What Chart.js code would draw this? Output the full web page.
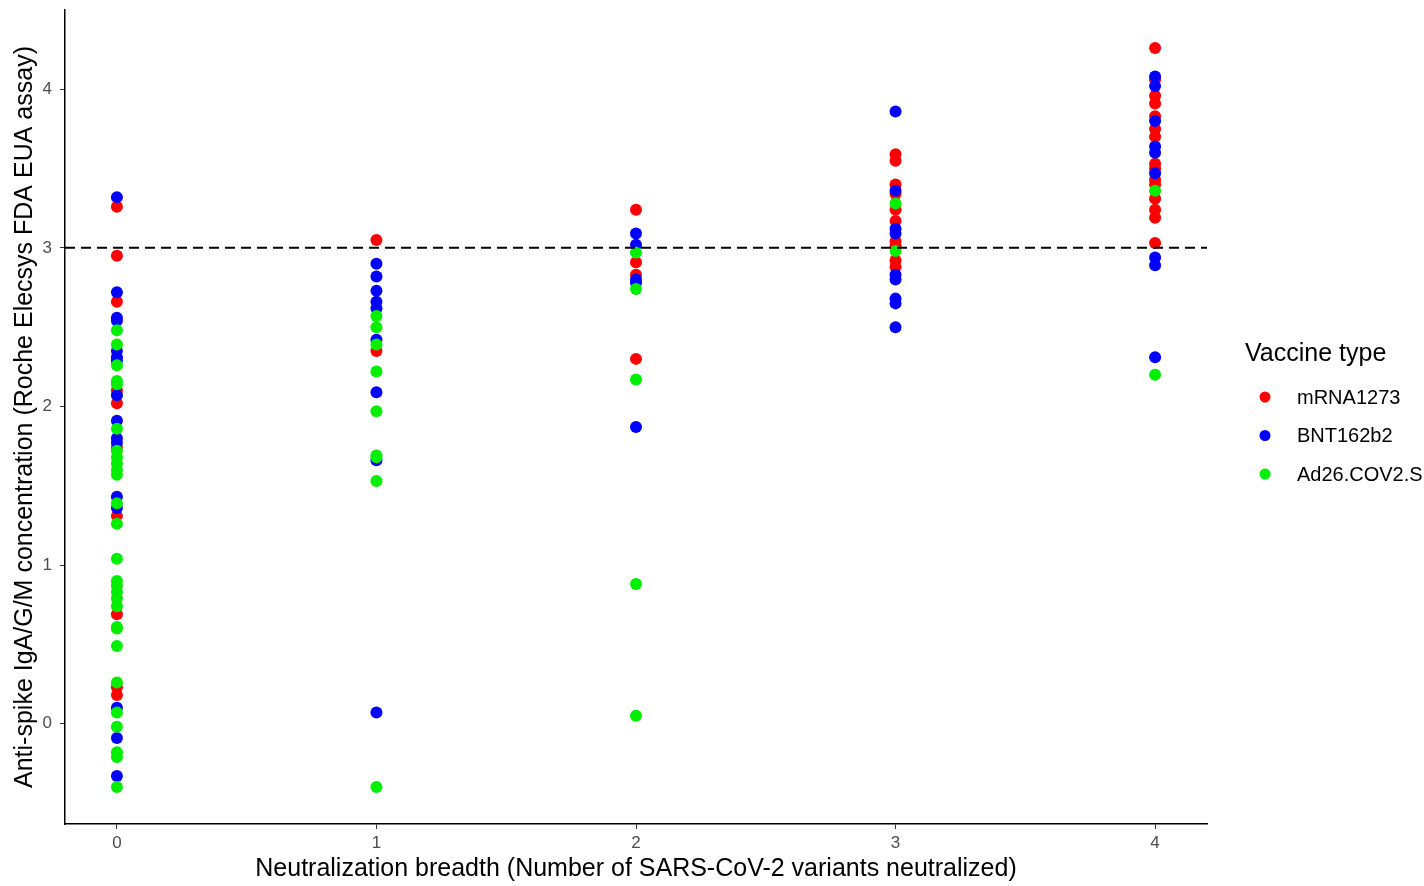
<!DOCTYPE html>
<html>
<head>
<meta charset="utf-8">
<script src="https://cdn.jsdelivr.net/npm/chart.js@4/dist/chart.umd.min.js"></script>
<style>
  html, body { margin: 0; padding: 0; background: #fff; }
  #wrap { width: 1424px; height: 886px; }
</style>
</head>
<body>
<div id="wrap"><canvas id="scatterChart"></canvas></div>
<script>
// Neutralization breadth levels (x axis)
var breadthLevels = [0, 1, 2, 3, 4];
var yTicks = [0, 1, 2, 3, 4];
var threshold = 3;

var seriesNames = ["mRNA1273", "BNT162b2", "Ad26.COV2.S"];
var seriesColors = ["#ff0000", "#0000ff", "#00ee00"];

// concentration values, one list per breadth level
var mrna1273 = [
  [3.26, 2.95, 2.66, 2.10, 2.02, 1.74, 1.31, 0.69, 0.23, 0.18],
  [3.05, 2.35],
  [3.24, 2.91, 2.83, 2.30],
  [3.59, 3.55, 3.40, 3.34, 3.24, 3.17, 3.04, 3.01, 2.92, 2.88],
  [4.26, 4.06, 3.96, 3.91, 3.83, 3.75, 3.70, 3.53, 3.50, 3.43, 3.40, 3.31, 3.24, 3.19, 3.03]
];
var bnt162b2 = [
  [3.32, 2.72, 2.56, 2.54, 2.35, 2.31, 2.29, 2.07, 1.91, 1.80, 1.77, 1.43, 1.36, 0.10, -0.09, -0.33],
  [2.90, 2.82, 2.73, 2.66, 2.62, 2.42, 2.09, 1.66, 0.07],
  [3.09, 3.02, 2.80, 2.78, 1.87],
  [3.86, 3.36, 3.12, 3.09, 2.83, 2.80, 2.68, 2.65, 2.50],
  [4.08, 4.02, 3.80, 3.64, 3.60, 3.47, 2.94, 2.89, 2.31]
];
var ad26 = [
  [2.48, 2.39, 2.26, 2.16, 2.14, 1.86, 1.72, 1.68, 1.64, 1.60, 1.57, 1.39, 1.26, 1.04, 0.90, 0.87, 0.83, 0.79, 0.74, 0.61, 0.60, 0.49, 0.26, 0.07, -0.02, -0.18, -0.21, -0.40],
  [2.57, 2.50, 2.39, 2.22, 1.97, 1.69, 1.68, 1.53, -0.40],
  [2.97, 2.74, 2.17, 0.88, 0.05],
  [3.28, 2.98],
  [3.36, 2.20]
];

var toPoints = function(levels) {
  var pts = [];
  levels.forEach(function(vals, i) {
    vals.forEach(function(v) { pts.push({x: breadthLevels[i], y: v}); });
  });
  return pts;
};

var allSeries = [mrna1273, bnt162b2, ad26];
var datasets = allSeries.map(function(s, i) {
  return {
    label: seriesNames[i],
    data: toPoints(s),
    backgroundColor: seriesColors[i],
    borderWidth: 0,
    pointRadius: 6,
    pointHoverRadius: 6,
    order: 3 - i
  };
});

var tickFont = {family: "'Liberation Sans', Arial, sans-serif", size: 17};
var titleFont = {family: "'Liberation Sans', Arial, sans-serif", size: 25};

var thresholdLine = {
  id: 'thresholdLine',
  afterDatasetsDraw: function(chart) {
    var ctx = chart.ctx, area = chart.chartArea;
    var y = chart.scales.y.getPixelForValue(threshold);
    ctx.save();
    ctx.strokeStyle = '#000';
    ctx.lineWidth = 2;
    ctx.setLineDash([10, 6]);
    ctx.beginPath();
    ctx.moveTo(area.left, y);
    ctx.lineTo(area.right, y);
    ctx.stroke();
    ctx.restore();
  }
};

var sideLegend = {
  id: 'sideLegend',
  afterDraw: function(chart) {
    var ctx = chart.ctx;
    ctx.save();
    ctx.fillStyle = '#000';
    ctx.textBaseline = 'middle';
    ctx.textAlign = 'left';
    ctx.font = "25px 'Liberation Sans', Arial, sans-serif";
    ctx.fillText("Vaccine type", 1245, 354);
    ctx.font = "20px 'Liberation Sans', Arial, sans-serif";
    seriesNames.forEach(function(name, i) {
      var cy = 397 + i * 38.5;
      ctx.fillStyle = seriesColors[i];
      ctx.beginPath();
      ctx.arc(1265, cy, 5.5, 0, Math.PI * 2);
      ctx.fill();
      ctx.fillStyle = '#000';
      ctx.fillText(name, 1297, cy + 1);
    });
    ctx.restore();
  }
};

new Chart(document.getElementById("scatterChart"), {
  type: 'scatter',
  data: { datasets: datasets },
  options: {
    responsive: true,
    maintainAspectRatio: false,
    animation: false,
    layout: { padding: { top: 10, right: 217, left: 0, bottom: 2 } },
    plugins: {
      legend: { display: false },
      tooltip: { enabled: false }
    },
    scales: {
      x: {
        type: 'linear',
        min: -0.2,
        max: 4.2,
        afterBuildTicks: function(scale) {
          scale.ticks = breadthLevels.map(function(v) { return {value: v}; });
        },
        afterFit: function(scale) {
          scale.height = 60;
          scale.paddingLeft = 0;
          scale.paddingRight = 0;
        },
        grid: { drawOnChartArea: false, drawTicks: true, tickLength: 5, color: '#333', lineWidth: 1 },
        border: { color: '#000', width: 1.5 },
        ticks: { font: tickFont, color: '#4d4d4d', padding: 4 },
        title: {
          display: true,
          text: 'Neutralization breadth (Number of SARS-CoV-2 variants neutralized)',
          font: titleFont,
          color: '#000',
          padding: { top: 0, bottom: 0 }
        }
      },
      y: {
        min: -0.633,
        max: 4.5,
        afterBuildTicks: function(scale) {
          scale.ticks = yTicks.map(function(v) { return {value: v}; });
        },
        afterFit: function(scale) {
          scale.width = 65;
          scale.paddingTop = 0;
          scale.paddingBottom = 0;
        },
        grid: { drawOnChartArea: false, drawTicks: true, tickLength: 5, color: '#333', lineWidth: 1 },
        border: { color: '#000', width: 1.5 },
        ticks: { font: tickFont, color: '#4d4d4d', padding: 8 },
        title: {
          display: true,
          text: 'Anti-spike IgA/G/M concentration (Roche Elecsys FDA EUA assay)',
          font: titleFont,
          color: '#000',
          padding: { top: 10, bottom: 0 }
        }
      }
    }
  },
  plugins: [thresholdLine, sideLegend]
});
</script>
</body>
</html>
